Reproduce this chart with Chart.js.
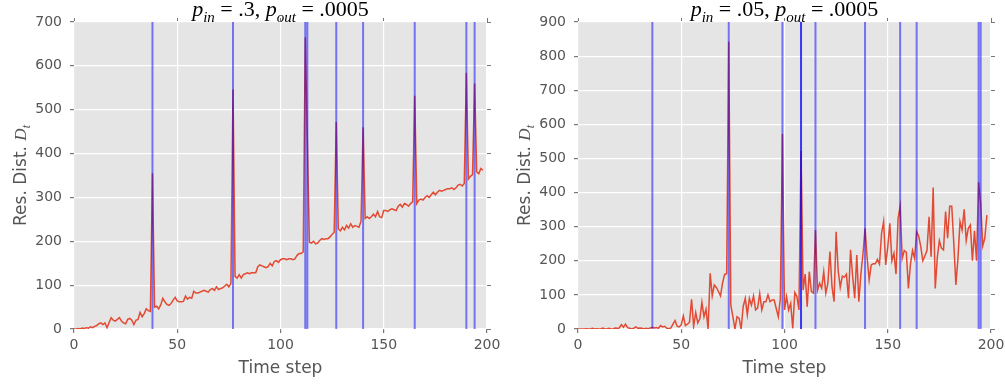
<!DOCTYPE html>
<html>
<head>
<meta charset="utf-8">
<script src="https://cdn.jsdelivr.net/npm/chart.js@4.4.0/dist/chart.umd.min.js"></script>
<style>
  body { margin: 0; background: #fff; width: 1005px; height: 387px; overflow: hidden; position: relative; }
  .box { position: absolute; top: 0; height: 387px; }
  #left { left: 0; width: 500px; }
  #right { left: 504px; width: 501px; }
</style>
</head>
<body>
<div class="box" id="left"><canvas id="chart1"></canvas></div>
<div class="box" id="right"><canvas id="chart2"></canvas></div>
<script>
// residual distance, p_in = .3
const distLeft = [
  0, 0, 1, 0, 2, 1, 3, 2, 5, 3, 6, 8, 12, 14, 10, 14, 3, 15, 26, 20,
  18, 22, 26, 18, 14, 12, 22, 24, 20, 10, 20, 22, 38, 28, 35, 46, 42, 40, 355, 50,
  52, 46, 55, 70, 62, 56, 54, 58, 66, 72, 64, 62, 62, 63, 75, 68, 72, 70, 86, 82,
  82, 84, 86, 88, 86, 84, 90, 92, 88, 96, 90, 92, 94, 98, 102, 96, 104, 546, 120, 116,
  124, 116, 124, 126, 128, 126, 128, 128, 128, 142, 146, 144, 142, 140, 142, 150, 144, 154, 156, 152,
  158, 160, 160, 158, 160, 160, 158, 160, 168, 172, 172, 176, 665, 430, 198, 196, 200, 194, 196, 202,
  206, 204, 206, 206, 210, 216, 220, 472, 228, 224, 232, 226, 236, 230, 240, 232, 236, 234, 232, 246,
  460, 252, 256, 252, 256, 262, 256, 268, 256, 254, 270, 270, 268, 272, 274, 272, 270, 280, 284, 278,
  286, 284, 280, 286, 290, 532, 286, 294, 296, 294, 300, 304, 300, 306, 312, 306, 312, 316, 314, 316,
  318, 320, 320, 322, 318, 322, 328, 330, 326, 332, 584, 342, 348, 352, 560, 358, 354, 366, 362
];
const changesLeft = [38, 77, 112, 113, 127, 140, 165, 190, 194];

// residual distance, p_in = .05
const distRight = [
  0, 0, 0, 0, 1, 0, 0, 2, 0, 1, 0, 0, 3, 0, 0, 2, 0, 0, 3, 2,
  3, 13, 5, 14, 4, 2, 0, 2, 6, 2, 3, 2, 0, 2, 1, 3, 5, 3, 4, 2,
  10, 6, 8, 2, 1, 3, 14, 25, 8, 6, 12, 38, 10, 14, 20, 87, 8, 48, 18, 30,
  78, 36, 58, 0, 163, 97, 129, 122, 110, 97, 135, 160, 162, 842, 70, 36, 0, 36, 32, 0,
  66, 90, 42, 90, 70, 97, 56, 62, 104, 56, 80, 80, 100, 80, 85, 85, 60, 36, 90, 572,
  56, 95, 56, 75, 2, 107, 95, 56, 522, 114, 161, 65, 168, 110, 105, 290, 114, 134, 120, 168,
  105, 134, 227, 124, 80, 285, 171, 122, 155, 152, 161, 90, 232, 154, 90, 217, 80, 161, 220, 295,
  210, 144, 188, 191, 191, 204, 190, 280, 315, 188, 240, 310, 200, 222, 161, 324, 360, 207, 230, 225,
  119, 190, 230, 207, 285, 272, 241, 200, 215, 230, 329, 212, 415, 119, 210, 259, 237, 232, 344, 266,
  360, 360, 250, 129, 207, 315, 290, 351, 260, 295, 305, 200, 288, 200, 430, 368, 244, 266, 334
];
const changesRight = [36, 73, 99, 108, 108, 115, 139, 156, 164, 194, 195];

const xTicks = [0, 50, 100, 150, 200];
const titleLeft = [['p', 'it'], ['in', 'sub'], [' = .3, ', 'rm'], ['p', 'it'], ['out', 'sub'], [' = .0005', 'rm']];
const titleRight = [['p', 'it'], ['in', 'sub'], [' = .05, ', 'rm'], ['p', 'it'], ['out', 'sub'], [' = .0005', 'rm']];
const yLabel = [['Res. Dist. ', 'sans'], ['D', 'it'], ['t', 'sub']];
const xLabel = 'Time step';

function partFont(kind, size) {
  if (kind == 'it') return 'italic ' + size + 'px "Liberation Serif"';
  if (kind == 'sub') return 'italic ' + Math.round(size * 0.7) + 'px "Liberation Serif"';
  if (kind == 'sans') return size + 'px "DejaVu Sans"';
  return size + 'px "Liberation Serif"';
}

function drawParts(ctx, parts, cx, baseline, size, color) {
  let total = 0;
  const widths = parts.map(([t, kind]) => {
    ctx.font = partFont(kind, size);
    const w = ctx.measureText(t).width;
    total += w;
    return w;
  });
  let x = cx - total / 2;
  ctx.fillStyle = color;
  ctx.textAlign = 'left';
  ctx.textBaseline = 'alphabetic';
  parts.forEach(([t, kind], i) => {
    ctx.font = partFont(kind, size);
    const dy = kind == 'sub' ? size * 0.25 : 0;
    ctx.fillText(t, x, baseline + dy);
    x += widths[i];
  });
}

const plotBg = {
  id: 'plotBg',
  beforeDraw(chart) {
    const { ctx, chartArea } = chart;
    ctx.save();
    ctx.fillStyle = '#e5e5e5';
    ctx.fillRect(chartArea.left, chartArea.top, chartArea.right - chartArea.left, chartArea.bottom - chartArea.top);
    ctx.restore();
  }
};

const labels = {
  id: 'labels',
  afterDraw(chart, args, opts) {
    const { ctx, chartArea } = chart;
    const cx = (chartArea.left + chartArea.right) / 2;
    ctx.save();
    drawParts(ctx, opts.title, cx, 16, 22, '#000');
    ctx.fillStyle = '#555';
    ctx.font = '17px "DejaVu Sans"';
    ctx.textAlign = 'center';
    ctx.textBaseline = 'middle';
    ctx.fillText(xLabel, cx, 369);
    ctx.translate(chartArea.left - 54, (chartArea.top + chartArea.bottom) / 2);
    ctx.rotate(-Math.PI / 2);
    drawParts(ctx, yLabel, 0, 6, 17, '#555');
    ctx.restore();
  }
};

const noPad = (s) => { s.paddingLeft = 0; s.paddingRight = 0; s.paddingTop = 0; s.paddingBottom = 0; };

function makeChart(id, dist, changes, yMax, title, rightWidth) {
  const datasets = [{
    data: dist.map((v, i) => ({ x: i, y: v })),
    borderColor: '#e24a33',
    borderWidth: 1.5,
    pointRadius: 0,
    tension: 0,
    order: 1
  }];
  changes.forEach((c) => {
    datasets.push({
      data: [{ x: c, y: 0 }, { x: c, y: yMax }],
      borderColor: 'rgba(0, 0, 255, 0.5)',
      borderWidth: 2,
      pointRadius: 0,
      order: 0
    });
  });

  const tickFont = { family: 'DejaVu Sans', size: 14 };
  const yTicks = [];
  for (let v = 0; v <= yMax; v += 100) yTicks.push(v);

  return new Chart(document.getElementById(id), {
    type: 'line',
    data: { datasets },
    plugins: [plotBg, labels],
    options: {
      responsive: true,
      maintainAspectRatio: false,
      animation: false,
      devicePixelRatio: 1,
      layout: { padding: 0 },
      plugins: {
        legend: { display: false },
        tooltip: { enabled: false },
        labels: { title },
      },
      scales: {
        x: {
          type: 'linear', position: 'bottom', min: 0, max: 200,
          afterBuildTicks: (s) => { s.ticks = xTicks.map((v) => ({ value: v })); },
          ticks: { color: '#555', font: tickFont, padding: 4, maxRotation: 0 },
          grid: { color: '#fff', lineWidth: 1.2, tickColor: '#777', tickLength: 4 },
          border: { display: false },
          afterFit: (s) => { s.height = 58; noPad(s); }
        },
        x2: {
          type: 'linear', position: 'top', min: 0, max: 200,
          afterBuildTicks: (s) => { s.ticks = xTicks.map((v) => ({ value: v })); },
          ticks: { display: false },
          grid: { drawOnChartArea: false, tickColor: '#777', tickLength: 4 },
          border: { display: false },
          afterFit: (s) => { s.height = 22; noPad(s); }
        },
        y: {
          position: 'left', min: 0, max: yMax,
          afterBuildTicks: (s) => { s.ticks = yTicks.map((v) => ({ value: v })); },
          ticks: { color: '#555', font: tickFont, padding: 8 },
          grid: { color: '#fff', lineWidth: 1.2, tickColor: '#777', tickLength: 4 },
          border: { display: false },
          afterFit: (s) => { s.width = 74; noPad(s); }
        },
        y2: {
          position: 'right', min: 0, max: yMax,
          afterBuildTicks: (s) => { s.ticks = yTicks.map((v) => ({ value: v })); },
          ticks: { display: false },
          grid: { drawOnChartArea: false, tickColor: '#777', tickLength: 4 },
          border: { display: false },
          afterFit: (s) => { s.width = rightWidth; noPad(s); }
        }
      }
    }
  });
}

makeChart('chart1', distLeft, changesLeft, 700, titleLeft, 13);
makeChart('chart2', distRight, changesRight, 900, titleRight, 14);
</script>
</body>
</html>
